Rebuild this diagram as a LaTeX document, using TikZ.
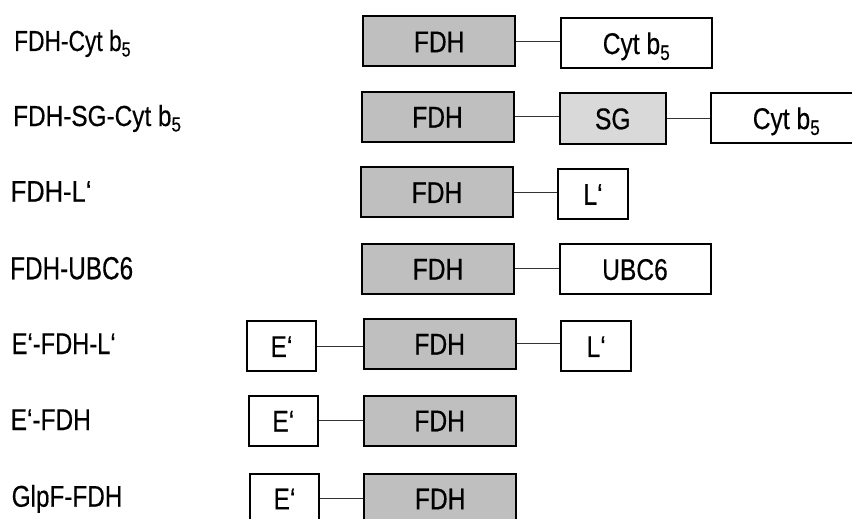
\documentclass[tikz,border=0pt]{standalone}
\usepackage{fontspec}
\setmainfont{Liberation Sans}[FakeBold=0.4]
\usepackage{graphicx}
% horizontal squeeze of a text
\newcommand\hsq[2]{\scalebox{#1}[1]{#2}}
% text inside a protein box
\newcommand\dm[1]{\hsq{0.82}{#1}}
\definecolor{fdhgray}{HTML}{BFBFBF}
\definecolor{sggray}{HTML}{D9D9D9}
\definecolor{linkgray}{HTML}{333333}

\begin{document}
\begin{tikzpicture}[x=1pt,y=-1pt,
  protbox/.style={draw=black, line width=2pt, inner sep=0pt, minimum height=50pt,
    text height=21.5pt, text depth=0pt, font=\fontsize{30}{30}\selectfont},
  fdh/.style={protbox, fill=fdhgray, minimum width=152pt},
  wide/.style={protbox, fill=white, minimum width=151pt},
  sg/.style={protbox, fill=sggray, minimum width=106pt},
  tag/.style={protbox, fill=white, minimum width=69.5pt},
  link/.style={draw=linkgray, line width=1.2pt},
  rowlabel/.style={anchor=base west, inner sep=0pt},
  lbsmall/.style={rowlabel, font=\fontsize{29}{29}\selectfont},
  lbmid/.style={rowlabel, font=\fontsize{30}{30}\selectfont},
  lbbig/.style={rowlabel, font=\fontsize{32}{32}\selectfont}
]
\useasboundingbox (0,0) rectangle (852,519);
\clip (0,0) rectangle (852,519);

% construct names
\node[lbsmall] (lab1) at (14,51)    {\hsq{0.785}{FDH-Cyt b\textsubscript{5}}};
\node[lbsmall] (lab2) at (13,126)   {\hsq{0.84}{FDH-SG-Cyt b\textsubscript{5}}};
\node[lbmid]   (lab3) at (10.5,201.7) {\hsq{0.85}{FDH-L‘}};
\node[lbbig]   (lab4) at (10,279.3) {\hsq{0.76}{FDH-UBC6}};
\node[lbmid]   (lab5) at (11.5,354) {\hsq{0.79}{E‘-FDH-L‘}};
\node[lbmid]   (lab6) at (10.5,430) {\hsq{0.815}{E‘-FDH}};
\node[lbmid]   (lab7) at (11.5,506.7) {\hsq{0.81}{GlpF-FDH}};

% row 1: FDH-Cyt b5
\node[fdh]  (f1) at (439.2,41.5)  {\dm{FDH}};
\node[wide] (c1) at (636.5,43.3)  {\dm{Cyt b\textsubscript{5}}};
\draw[link] (f1.east) -- (f1.east -| c1.west);

% row 2: FDH-SG-Cyt b5
\node[fdh]  (f2) at (437.5,116.8) {\dm{FDH}};
\node[sg]   (s2) at (612.8,118.5) {\dm{SG}};
\node[wide] (c2) at (786.5,118.3) {\dm{Cyt b\textsubscript{5}}};
\draw[link] (f2.east) -- (f2.east -| s2.west);
\draw[link] (s2.east) -- (s2.east -| c2.west);

% row 3: FDH-L'
\node[fdh] (f3) at (437,192.2) {\dm{FDH}};
\node[tag] (l3) at (593,194)   {\dm{L‘}};
\draw[link] (f3.east) -- (f3.east -| l3.west);

% row 4: FDH-UBC6
\node[fdh]  (f4) at (438,268.8) {\dm{FDH}};
\node[wide] (u4) at (635,269.2) {\dm{UBC6}};
\draw[link] (f4.east) -- (f4.east -| u4.west);

% row 5: E'-FDH-L'
\node[tag] (e5) at (281.5,346.2) {\dm{E‘}};
\node[fdh] (f5) at (439.7,343.8) {\dm{FDH}};
\node[tag] (l5) at (596.2,346.2) {\dm{L‘}};
\draw[link] (e5.east) -- (e5.east -| f5.west);
\draw[link] (f5.east) -- (f5.east -| l5.west);

% row 6: E'-FDH
\node[tag] (e6) at (283.3,420.8) {\dm{E‘}};
\node[fdh] (f6) at (439.7,420.5) {\dm{FDH}};
\draw[link] (e6.east) -- (e6.east -| f6.west);

% row 7: GlpF-FDH
\node[tag] (e7) at (284.5,498.6) {\dm{E‘}};
\node[fdh] (f7) at (440.2,498.6) {\dm{FDH}};
\draw[link] (e7.east) -- (e7.east -| f7.west);
\end{tikzpicture}
\end{document}
